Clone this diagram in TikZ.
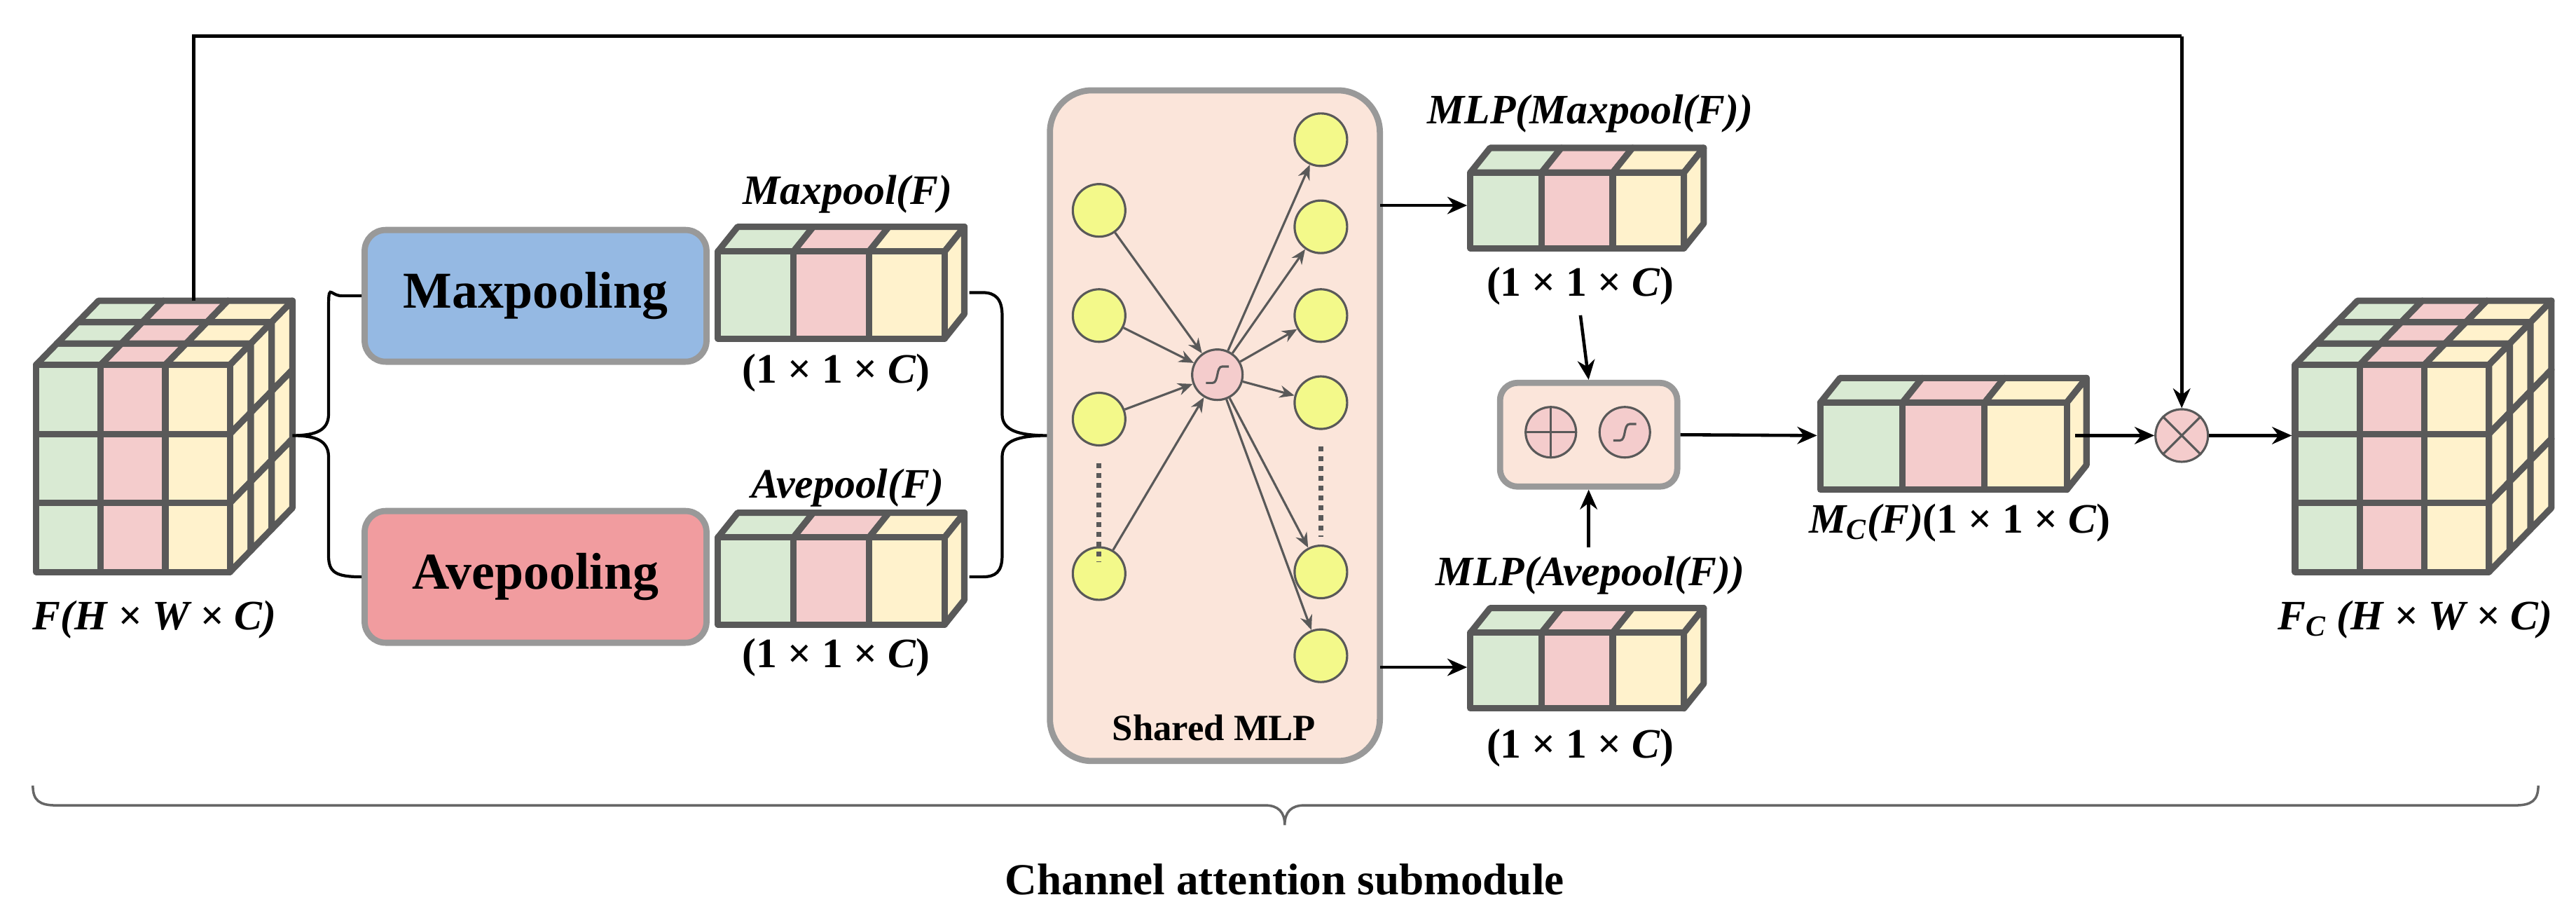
\documentclass[tikz,border=0pt]{standalone}
\usepackage{fontspec}
\setmainfont{Liberation Serif}
\usetikzlibrary{arrows.meta}
\definecolor{cg}{HTML}{D9EAD3}
\definecolor{cp}{HTML}{F4CCCC}
\definecolor{cy}{HTML}{FFF2CC}
\definecolor{edge}{HTML}{595959}
\definecolor{neur}{HTML}{F3F98A}
\definecolor{blu}{HTML}{95B9E3}
\definecolor{rosa}{HTML}{F19C9F}
\definecolor{peach}{HTML}{FBE5DA}
\tikzset{
 cell/.style={draw=edge,line width=2.6pt,line join=round},
 neuron/.style={circle,draw=edge,fill=neur,line width=0.9pt,minimum size=0.75cm,inner sep=0},
 op/.style={circle,draw=edge,fill=cp,line width=0.9pt,minimum size=0.72cm,inner sep=0},
 nn/.style={draw=edge,line width=0.9pt,-{Stealth[length=6pt,width=5pt]}},
 arr/.style={draw=black,line width=1.3pt,-{Stealth[length=8pt,width=7pt]}},
 pool/.style={draw=black!40,line width=2.5pt,rounded corners=0.3cm,minimum width=4.88cm,minimum height=1.88cm,font=\bfseries\fontsize{21}{24}\selectfont},
 brc/.style={draw=black,line width=1.2pt},
 lab/.style={font=\bfseries\itshape\fontsize{17}{20}\selectfont,inner sep=0},
}
\newcommand\dimC{\textup{(1 × 1 ×} C\textup{)}}
\newcommand\MyCube[2]{%
 \foreach \k in {0,1,2}{\foreach \j/\c in {0/cg,1/cp,2/cy}{
   \filldraw[cell,fill=\c] ({#1+\j*39.33+\k*12.67},{#2-\k*13}) -- ++(39.33,0) -- ++(12.67,-13) -- ++(-39.33,0) -- cycle;}}
 \foreach \k in {0,1,2}{\foreach \i in {0,1,2}{
   \filldraw[cell,fill=cy] ({#1+118+\k*12.67},{#2+\i*42-\k*13}) -- ++(12.67,-13) -- ++(0,42) -- ++(-12.67,13) -- cycle;}}
 \foreach \j/\c in {0/cg,1/cp,2/cy}{\foreach \i in {0,1,2}{
   \filldraw[cell,fill=\c] ({#1+\j*39.33},{#2+\i*42}) rectangle ++(39.33,42);}}
}
\newcommand\MyBar[4]{% x y w h
 \foreach \j/\c in {0/cg,1/cp,2/cy}{
   \filldraw[cell,fill=\c] ({#1+\j*#3/3},#2) -- ++({#3/3},0) -- ++(12,-15) -- ++({-#3/3},0) -- cycle;}
 \filldraw[cell,fill=cy] ({#1+#3},#2) -- ++(12,-15) -- ++(0,#4) -- ++(-12,15) -- cycle;
 \foreach \j/\c in {0/cg,1/cp,2/cy}{
   \filldraw[cell,fill=\c] ({#1+\j*#3/3},#2) rectangle ++({#3/3},#4);}
}
\begin{document}
\begin{tikzpicture}[x=0.02345cm,y=-0.02345cm]
\useasboundingbox (0,0) rectangle (1568,557);
\coordinate (st) at (118,183);
\coordinate (c1) at (118,22);
\coordinate (c2) at (1328,22);
\MyCube{22}{222}
\node[lab] (lF) at (94,377) {F(H × W × C)};
\MyCube{1397}{222}
\node[lab] (lFc) at (1470,377) {F\textsubscript{C} (H × W × C)};
\node[pool,fill=blu] (mx) at (326,180) {Maxpooling};
\node[pool,fill=rosa] (av) at (326,351) {Avepooling};
\draw[brc] (mx.west) -- ++(-12,0) .. controls ++(-8,0) and (200,170) .. (200,192) -- (200,252) .. controls (200,262) and (192,265) .. (178,265)
  .. controls (192,265) and (200,268) .. (200,278) -- (200,338) .. controls (200,348) and (204,351) .. (av.west);
\MyBar{437}{153}{138}{53}
\node[lab] (lmp) at (516,118) {Maxpool(F)};
\node[lab] (l1) at (509,227) {\dimC};
\MyBar{437}{327}{138}{53}
\node[lab] (lap) at (516,297) {Avepool(F)};
\node[lab] (l2) at (509,400) {\dimC};
\draw[brc] (590,178) -- (598,178) .. controls (606,178) and (610,182) .. (610,192) -- (610,252) .. controls (610,262) and (620,265) .. (638,265)
  .. controls (620,265) and (610,268) .. (610,278) -- (610,338) .. controls (610,348) and (606,351) .. (598,351) -- (590,351);
\node[draw=black!40,fill=peach,line width=2.5pt,rounded corners=0.6cm,minimum width=4.71cm,minimum height=9.57cm] (mlp) at (739.5,259) {};
\node[font=\bfseries\fontsize{15}{17}\selectfont] (lmlp) at (739,443) {Shared MLP};
\foreach \n/\y in {1/128,2/192,3/255,4/349}{\node[neuron] (i\n) at (669,\y) {};}
\foreach \n/\y in {1/85,2/138,3/192,4/245,5/348,6/399}{\node[neuron] (o\n) at (804,\y) {};}
\draw[edge,line width=2pt,dotted] (i3.south) ++(0,10) -- ++(0,60);
\draw[edge,line width=2pt,dotted] (o4.south) ++(0,10) -- ++(0,55);
\node[op] (sg) at (741,228) {};
\begin{scope}[shift={(sg.center)}]\draw[edge,line width=0.9pt] (-7,5) -- (-3,5) .. controls (1,5) and (-1,-5) .. (3,-5) -- (7,-5);\end{scope}
\foreach \n in {1,2,3,4}{\draw[nn] (i\n) -- (sg);}
\foreach \n in {1,2,3,4,5,6}{\draw[nn] (sg) -- (o\n);}
\coordinate (m1) at (840,125);
\coordinate (m2) at (840,406);
\MyBar{895}{105}{130}{46}
\node[lab] (lm1) at (968,69) {MLP(Maxpool(F))};
\node[lab] (lt1) at (962,174) {\dimC};
\MyBar{895}{385}{130}{46}
\node[lab] (lm2) at (968,350) {MLP(Avepool(F))};
\node[lab] (lt2) at (962,455) {\dimC};
\coordinate (b1) at (893,125);
\coordinate (b2) at (893,406);
\draw[arr] (m1) -- (b1);
\draw[arr] (m2) -- (b2);
\node[draw=black!40,fill=peach,line width=2.5pt,rounded corners=0.25cm,minimum width=2.53cm,minimum height=1.48cm] (cb) at (967,264.5) {};
\node[op] (pl) at (944,263) {};
\draw[edge,line width=0.9pt] (pl.north) -- (pl.south) (pl.west) -- (pl.east);
\node[op] (sg2) at (989,263) {};
\begin{scope}[shift={(sg2.center)}]\draw[edge,line width=0.9pt] (-7,5) -- (-3,5) .. controls (1,5) and (-1,-5) .. (3,-5) -- (7,-5);\end{scope}
\draw[arr] (lt1.south) ++(0,6) -- (cb.north);
\draw[arr] (lm2.north -| cb) ++(0,-5) -- (cb.south);
\MyBar{1108}{245}{150}{53}
\node[lab] (lmc) at (1193,318) {M\textsubscript{C}(F)\dimC};
\coordinate (mcin) at (1106,265);
\coordinate (mcout) at (1263,265);
\draw[arr] (cb.east) -- (mcin);
\node[op,minimum size=0.75cm] (mul) at (1328,265) {};
\draw[edge,line width=0.9pt] (mul.north west) -- (mul.south east) (mul.north east) -- (mul.south west);
\draw[arr] (mcout) -- (mul);
\coordinate (cin) at (1395,265);
\draw[arr] (mul) -- (cin);
\draw[line width=1.3pt] (st) -- (c1) -- (c2);
\draw[arr] (c2) -- (mul);
\draw[draw=black!60,line width=1pt] (20,478) .. controls (20,487) and (24,490) .. (34,490) -- (770,490) .. controls (778,490) and (782,494) .. (782,502)
  .. controls (782,494) and (786,490) .. (794,490) -- (1531,490) .. controls (1541,490) and (1545,487) .. (1545,478);
\node[font=\bfseries\fontsize{18}{21}\selectfont] (title) at (782,535) {Channel attention submodule};
\end{tikzpicture}
\end{document}
